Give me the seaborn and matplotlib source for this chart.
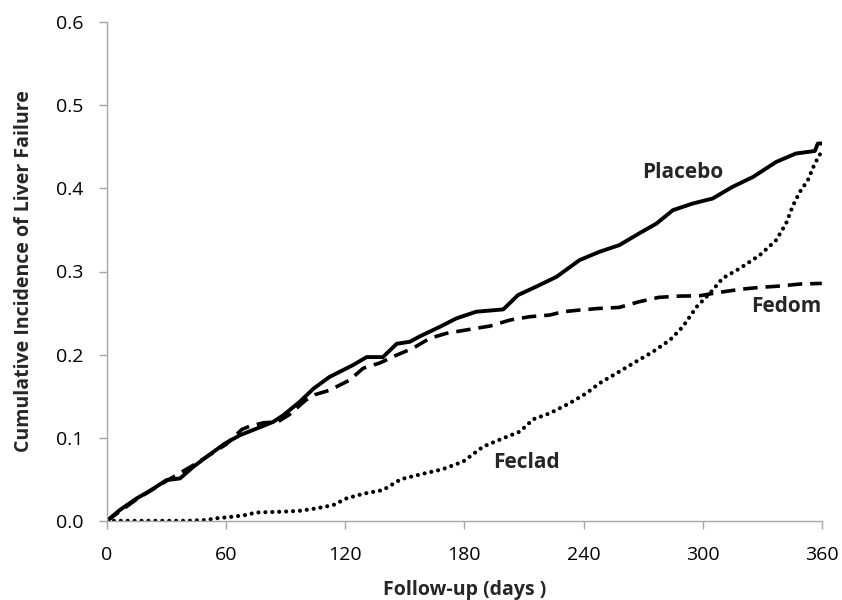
import pandas as pd
import matplotlib
matplotlib.use('Agg')
import matplotlib.pyplot as plt
import seaborn as sns

# Cumulative incidence (day, value)
placebo_days = [0, 6.5, 15, 21.6, 30, 36.8, 43.5, 50.2, 59.4, 67, 75.4, 83.7, 88.8, 97, 104, 112,
                124, 130.8, 139, 145.9, 152.6, 157.6, 167.7, 176, 186, 199.6, 207, 216, 226.4, 238,
                248, 258, 268, 276.8, 285, 295, 305, 315, 325.4, 337, 347, 356.5, 358, 360]
placebo_vals = [0, 0.013, 0.027, 0.036, 0.049, 0.051, 0.065, 0.077, 0.093, 0.103, 0.111, 0.119, 0.127, 0.143, 0.159, 0.173,
                0.1875, 0.197, 0.197, 0.213, 0.2155, 0.222, 0.2335, 0.2436, 0.2516, 0.2544, 0.2716, 0.2816, 0.2936, 0.3137,
                0.3237, 0.3317, 0.3458, 0.3578, 0.3738, 0.3818, 0.3878, 0.4018, 0.4138, 0.4318, 0.442, 0.445, 0.454, 0.454]

fedom_days = [0, 15, 30, 45, 60, 68, 72, 79, 86, 92, 100, 105, 112, 122, 129, 137.5, 146, 154, 162.6, 171,
              182.8, 193, 203, 213, 223, 229.7, 238, 248, 258, 268, 278, 288.5, 298.6, 307, 318.7, 328.8,
              339, 349, 360]
fedom_vals = [0, 0.026, 0.048, 0.069, 0.092, 0.110, 0.114, 0.118, 0.119, 0.128, 0.145, 0.152, 0.157, 0.169, 0.1835, 0.19,
              0.1995, 0.2075, 0.2196, 0.2256, 0.2304, 0.2344, 0.2416, 0.2456, 0.2476, 0.2516, 0.2536, 0.2556, 0.2568,
              0.2636, 0.2689, 0.2704, 0.2708, 0.2744, 0.2785, 0.2809, 0.2825, 0.2849, 0.2857]

feclad_days = [0, 40, 50, 55, 63.6, 70, 75, 88.8, 97, 105.6, 114, 120.7, 129, 139, 148, 159, 169, 179.4,
               189.5, 199.6, 208, 214.7, 223, 233, 241.5, 248, 256.6, 265, 275, 283.5, 290, 297, 303.6, 310,
               318.7, 328.8, 337, 342, 345.6, 349, 353, 356.5, 360]
feclad_vals = [0, 0, 0.001, 0.003, 0.005, 0.007, 0.01, 0.011, 0.012, 0.015, 0.019, 0.027, 0.0325, 0.037, 0.05, 0.0565,
               0.062, 0.0713, 0.0893, 0.0994, 0.1074, 0.1222, 0.1294, 0.1415, 0.1535, 0.1655, 0.1775, 0.1895, 0.2035,
               0.2175, 0.2335, 0.2576, 0.2736, 0.2917, 0.3037, 0.3197, 0.3377, 0.3578, 0.38, 0.396, 0.41, 0.43, 0.445]

sns.set_style('white')
plt.rcParams['font.family'] = ['Open Sans', 'DejaVu Sans']

fig = plt.figure(figsize=(8.42, 6), dpi=100)
ax = fig.add_axes([0.127, 0.132, 0.849, 0.831])

sns.lineplot(x=placebo_days, y=placebo_vals, color='black', linewidth=2.8, estimator=None, ax=ax)
sns.lineplot(x=fedom_days, y=fedom_vals, color='black', linewidth=2.6, estimator=None,
             linestyle=(0, (4.0, 2.2)), ax=ax)
sns.lineplot(x=feclad_days, y=feclad_vals, color='black', linewidth=3.0, estimator=None,
             linestyle=(0, (0.01, 1.65)), dash_capstyle='round', ax=ax)

# series labels
ax.text(290, 0.419, 'Placebo', fontsize=15, fontweight='bold', ha='center', va='center')
ax.text(360, 0.258, 'Fedom', fontsize=15, fontweight='bold', ha='right', va='center')
ax.text(211.5, 0.070, 'Feclad', fontsize=15, fontweight='bold', ha='center', va='center')

ax.set_xlim(0, 360)
ax.set_ylim(0, 0.6)
ax.set_xticks(range(0, 361, 60))
ax.set_yticks([0.0, 0.1, 0.2, 0.3, 0.4, 0.5, 0.6])
ax.set_yticklabels(['%.1f' % v for v in ax.get_yticks()])

for side in ['top', 'right']:
    ax.spines[side].set_visible(False)
for side in ['left', 'bottom']:
    ax.spines[side].set_color('#a6a6a6')
    ax.spines[side].set_linewidth(1.0)
ax.tick_params(axis='both', direction='out', length=6, width=1.0, color='#a6a6a6',
               labelsize=14, labelcolor='black', left=True, bottom=True)
ax.tick_params(axis='y', pad=11)
ax.tick_params(axis='x', pad=12)

ax.set_xlabel('Follow-up (days )', fontsize=14, fontweight='bold', labelpad=12)
ax.set_ylabel('Cumulative Incidence of Liver Failure', fontsize=14, fontweight='bold', labelpad=16)

fig.savefig('out.png', dpi=100)
